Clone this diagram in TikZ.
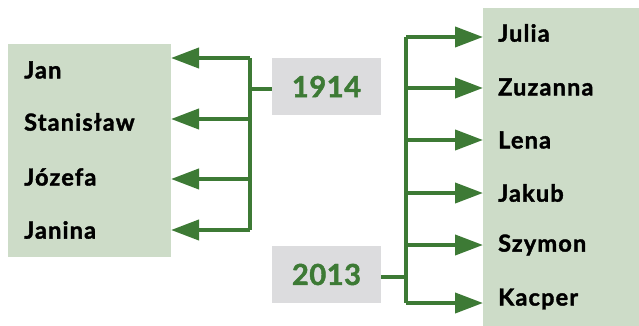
\documentclass[tikz,border=0pt]{standalone}
\usepackage{fontspec}
\setmainfont{Lato}
\newfontfamily\nmfont{Lato}[BoldFeatures={FakeBold=1.6,LetterSpace=5}]
\newfontfamily\yrfont{Lato}[BoldFeatures={FakeBold=1.6,LetterSpace=2}]
\usetikzlibrary{arrows.meta}
\definecolor{lgreen}{HTML}{CDDCC8}
\definecolor{dgreen}{HTML}{3D7A35}
\definecolor{lgray}{HTML}{DCDCDE}
\begin{document}
\begin{tikzpicture}[x=1pt,y=-1pt,
  namebox/.style={fill=lgreen,draw=none},
  yearbox/.style={fill=lgray,draw=none,minimum width=109pt,minimum height=57pt,inner sep=0pt,
    text=dgreen,font=\yrfont\bfseries\fontsize{29}{31}\selectfont},
  nametext/.style={anchor=west,inner sep=0pt,font=\nmfont\bfseries\fontsize{23.5}{25}\selectfont},
  conn/.style={draw=dgreen,line width=4pt},
  arr/.style={conn,-{Triangle[length=28pt,width=20pt]}}]
\useasboundingbox (0,0) rectangle (639,326);
\fill[namebox] (8,44) rectangle (171,257);
\fill[namebox] (483,8) rectangle (639,326);
\node[yearbox] (y1) at (326.5,86.5) {1914};
\node[yearbox] (y2) at (326.5,274.5) {2013};
% left names
\node[nametext] (jan) at (24,70) {Jan};
\node[nametext] (sta) at (24,122) {Stanisław};
\node[nametext] (joz) at (24,177) {Józefa};
\node[nametext] (jna) at (24,230) {Janina};
\coordinate (l1) at (171,58);
\coordinate (l2) at (171,119);
\coordinate (l3) at (171,179);
\coordinate (l4) at (171,230);
% right names
\node[nametext] (jul) at (498,33) {Julia};
\node[nametext] (zuz) at (498,87) {Zuzanna};
\node[nametext] (len) at (498,140) {Lena};
\node[nametext] (jak) at (498,193) {Jakub};
\node[nametext] (szy) at (498,245) {Szymon};
\node[nametext] (kac) at (498,299) {Kacper};
\coordinate (r1) at (483,37);
\coordinate (r2) at (483,88);
\coordinate (r3) at (483,140);
\coordinate (r4) at (483,193);
\coordinate (r5) at (483,245);
\coordinate (r6) at (483,303);
% left tree
\coordinate (lv) at (250,89);
\draw[conn] (y1.west |- lv) -- (lv);
\draw[conn] (lv |- l1) -- (lv |- l4);
\foreach \c in {l1,l2,l3,l4} \draw[arr] (lv |- \c) -- (\c);
% right tree
\coordinate (rv) at (406,277);
\draw[conn] (y2.east |- rv) -- (rv);
\draw[conn] (rv |- r1) -- (rv |- r6);
\foreach \c in {r1,r2,r3,r4,r5,r6} \draw[arr] (rv |- \c) -- (\c);
\end{tikzpicture}
\end{document}
